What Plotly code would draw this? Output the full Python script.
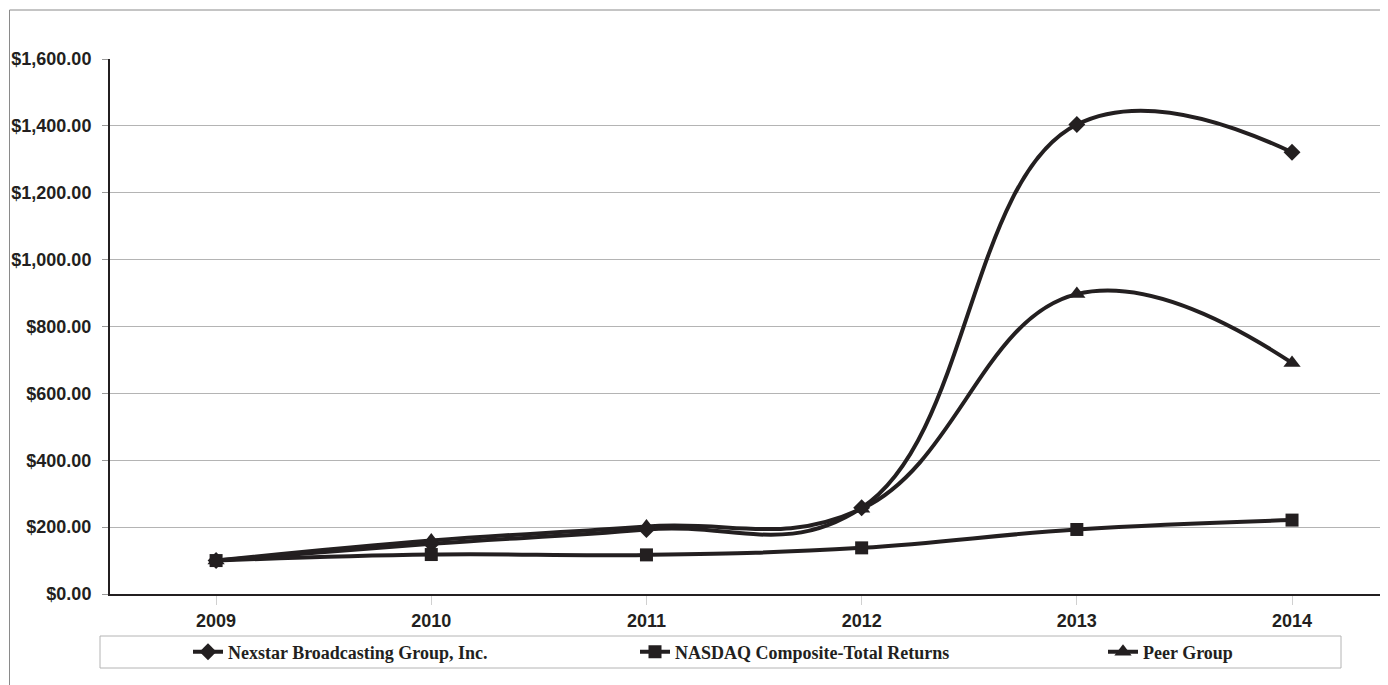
import plotly.graph_objects as go

years = [2009, 2010, 2011, 2012, 2013, 2014]
nexstar = [100, 150, 193, 258, 1404, 1321]
nasdaq = [100, 118, 117, 138, 193, 221]
peer = [100, 160, 202, 255, 897, 691]
y_ticks = [0, 200, 400, 600, 800, 1000, 1200, 1400, 1600]
y_labels = ["$%s" % format(v, ",.2f") for v in y_ticks]

# page body has an 8px margin; work in screen pixels and convert
OFF = 8
W, H = 1388 - OFF, 685 - OFF
L, R, T, B = 110 - OFF, 0, 59 - OFF, 685 - 594
pw, ph = W - L - R, H - T - B

def px_x(p):
    return (p - OFF - L) / pw

def px_y(p):
    return (H + OFF - B - p) / ph

series = [
    ("Nexstar Broadcasting Group, Inc.", nexstar, "diamond", 13, "legend", 188),
    ("NASDAQ Composite-Total Returns", nasdaq, "square", 13, "legend2", 635),
    ("Peer Group", peer, "triangle-up", 15, "legend3", 1103),
]

fig = go.Figure()
legends = {}
for name, vals, sym, sz, lg, lx in series:
    fig.add_trace(go.Scatter(
        x=years, y=vals, name=name, mode="lines+markers", legend=lg,
        line=dict(color="#231f20", width=4, shape="spline", smoothing=1.2),
        marker=dict(symbol=sym, size=sz, color="#231f20"),
    ))
    legends[lg] = dict(
        orientation="h", x=px_x(lx), y=px_y(652), xanchor="left", yanchor="middle",
        font=dict(family="Liberation Serif", size=18, color="#231f20", weight="bold"),
        bgcolor="rgba(0,0,0,0)", borderwidth=0, itemwidth=30,
    )

fig.update_layout(
    width=W, height=H,
    margin=dict(l=L, r=R, t=T, b=B, pad=0),
    paper_bgcolor="white", plot_bgcolor="white",
    showlegend=True,
    **legends,
    xaxis=dict(
        range=[2008.507, 2014.446], tickvals=years, ticktext=[str(y) for y in years],
        showgrid=False, zeroline=False, showline=True, linecolor="#231f20", linewidth=2,
        ticks="outside", ticklen=9, tickcolor="#d0d0d0", tickwidth=1,
        tickfont=dict(family="Liberation Sans", size=18, color="#231f20", weight="bold"),
    ),
    yaxis=dict(
        range=[0, 1600], tickvals=y_ticks, ticktext=y_labels,
        showgrid=True, gridcolor="#b4b4b4", gridwidth=1, zeroline=False,
        showline=True, linecolor="#231f20", linewidth=2,
        ticks="outside", ticklen=6, tickcolor="#999999", tickwidth=1,
        ticklabelstandoff=7,
        tickfont=dict(family="Liberation Sans", size=18, color="#231f20", weight="bold"),
    ),
    shapes=[
        dict(type="rect", xref="paper", yref="paper",
             x0=px_x(9.5), x1=px_x(1400), y0=px_y(700), y1=px_y(10),
             line=dict(color="#8a8a8a", width=1), fillcolor="rgba(0,0,0,0)", layer="below"),
        dict(type="rect", xref="paper", yref="paper",
             x0=px_x(100), x1=px_x(1341), y0=px_y(668), y1=px_y(636),
             line=dict(color="#b4b4b4", width=1), fillcolor="rgba(0,0,0,0)", layer="below"),
    ],
)

fig.write_html("out.html")
